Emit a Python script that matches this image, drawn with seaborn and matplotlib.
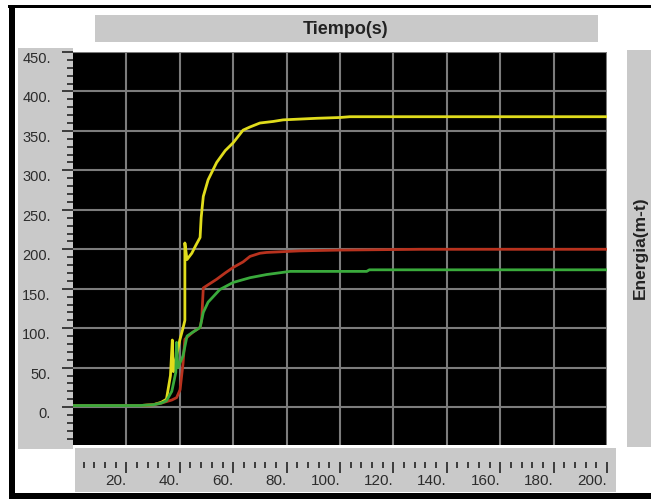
"""
Energía acumulada vs tiempo: réplica del panel de monitoreo (fondo negro).
Guarda out.png (651x499 px).
"""

import matplotlib
matplotlib.use("Agg")
import matplotlib.pyplot as plt
import matplotlib.ticker as mticker
from matplotlib.patches import Rectangle
import pandas as pd
import seaborn as sns

# --- Datos ---
t_amarillo = [0, 25, 30, 33, 35, 36.5, 37.2, 37.6, 38.5, 40, 41.2, 41.9, 41.9, 42.7,
              44.5, 46, 47.6, 48, 48.8, 50.6, 53.8, 57, 60, 63.7, 66.3, 70, 75, 78.7,
              85, 91.3, 100, 103.7, 120, 150, 200]
e_amarillo = [2, 2, 3, 6, 10, 40, 85, 45, 60, 85, 100, 110, 208, 187,
              195, 205, 215, 240, 267, 288, 310, 325, 335, 351, 355, 360, 362, 364,
              365, 366, 367, 368, 368, 368, 368]

t_rojo = [0, 25, 30, 33, 35, 37, 38.8, 40.1, 41.2, 41.9, 44.9, 47.6, 48.2, 48.8,
          50.6, 53.8, 57, 60, 63.7, 66.3, 70, 72.5, 78.7, 85, 100, 130, 200]
e_rojo = [2, 2, 3, 5, 7, 9, 12, 22, 55, 86, 95, 101, 111, 151,
          155, 162, 170, 177, 184, 191, 195, 196, 197, 198, 199, 200, 200]

t_verde = [0, 25, 30, 33, 35, 37, 38.5, 38.8, 39.3, 41.2, 42.7, 44.9, 47.6, 48.8,
           50.6, 55, 60, 66.3, 72.5, 81.3, 90, 110, 111, 150, 200]
e_verde = [2, 2, 3, 5, 8, 20, 44, 82, 50, 65, 90, 95, 101, 120,
           133, 149, 158, 164, 168, 172, 172, 172, 174, 174, 174]

x_ticks = list(range(20, 201, 20))
y_ticks = list(range(0, 451, 50))

COLOR_AMARILLO = "#e0dc1c"
COLOR_ROJO = "#b8321e"
COLOR_VERDE = "#3aaa3c"
COLOR_PANEL = "#c9c9c9"
COLOR_TEXTO = "#2c2c2c"

W, H = 651, 499

sns.set_style("dark")
plt.rcParams["font.family"] = ["Liberation Sans", "DejaVu Sans"]

fig = plt.figure(figsize=(W / 100, H / 100), dpi=100, facecolor="white")


def rect_px(x0, y0, x1, y1, color):
    """Rectángulo en coordenadas de píxel (origen arriba a la izquierda)."""
    fig.patches.append(Rectangle((x0 / W, 1 - y1 / H), (x1 - x0) / W, (y1 - y0) / H,
                                 transform=fig.transFigure, facecolor=color,
                                 edgecolor="none", zorder=-5))


# marco negro y paneles grises
rect_px(8, 5, W, 8, "black")
rect_px(9, 5, 15, H, "black")
rect_px(9, 493, W, H, "black")
rect_px(95, 15, 598, 42, COLOR_PANEL)
rect_px(18, 48, 73, 449, COLOR_PANEL)
rect_px(75, 448, 616, 492, COLOR_PANEL)
rect_px(627, 50, W, 447, COLOR_PANEL)

fig.text(346 / W, 1 - 29 / H, "Tiempo(s)", ha="center", va="center",
         fontsize=13, fontweight="bold", color="#222222")
fig.text(640 / W, 1 - 248 / H, "Energia(m-t)", ha="center", va="center",
         rotation=90, fontsize=12.5, fontweight="bold", color="#222222")

ax = fig.add_axes([73 / W, 1 - 445 / H, (607 - 73) / W, (445 - 52) / H])
ax.set_facecolor("black")

series = [
    (t_amarillo, e_amarillo, COLOR_AMARILLO),
    (t_rojo, e_rojo, COLOR_ROJO),
    (t_verde, e_verde, COLOR_VERDE),
]
for t, e, c in series:
    df = pd.DataFrame({"t": t, "e": e})
    sns.lineplot(data=df, x="t", y="e", ax=ax, color=c, linewidth=2,
                 estimator=None, sort=False, zorder=3)

ax.set_xlim(0, 200)
ax.set_ylim(-48, 450)
ax.set_xlabel("")
ax.set_ylabel("")

ax.set_xticks(x_ticks)
ax.set_xticklabels([f"{v}." for v in x_ticks])
ax.xaxis.set_minor_locator(mticker.FixedLocator(
    [v for v in range(4, 201, 4) if v % 20 != 0]))
ax.set_yticks(y_ticks)
ax.set_yticklabels([f"{v}." for v in y_ticks])
ax.yaxis.set_minor_locator(mticker.FixedLocator(
    [v for v in range(-40, 450, 10) if v % 50 != 0]))

ax.grid(True, which="major", color="#7c7c7c", linewidth=1.5)
ax.grid(False, which="minor")
for s in ax.spines.values():
    s.set_visible(False)
ax.spines["bottom"].set_position(("outward", 12))

ax.tick_params(axis="x", which="both", bottom=True, top=False)
ax.tick_params(axis="y", which="both", left=True, right=False)
ax.tick_params(axis="x", which="major", direction="out", length=8, width=1.4,
               color="#3c3c3c", pad=1, labelsize=11, labelcolor=COLOR_TEXTO)
ax.tick_params(axis="x", which="minor", direction="out", length=4, width=1.4,
               color="#3c3c3c")
ax.tick_params(axis="y", which="major", direction="out", length=8, width=1.4,
               color="#3c3c3c", pad=8, labelsize=10.5, labelcolor=COLOR_TEXTO)
ax.tick_params(axis="y", which="minor", direction="out", length=4, width=1.4,
               color="#3c3c3c")
plt.setp(ax.get_xticklabels(), ha="right")
plt.setp(ax.get_yticklabels(), va="top")

fig.savefig("out.png", dpi=100)
plt.close(fig)
